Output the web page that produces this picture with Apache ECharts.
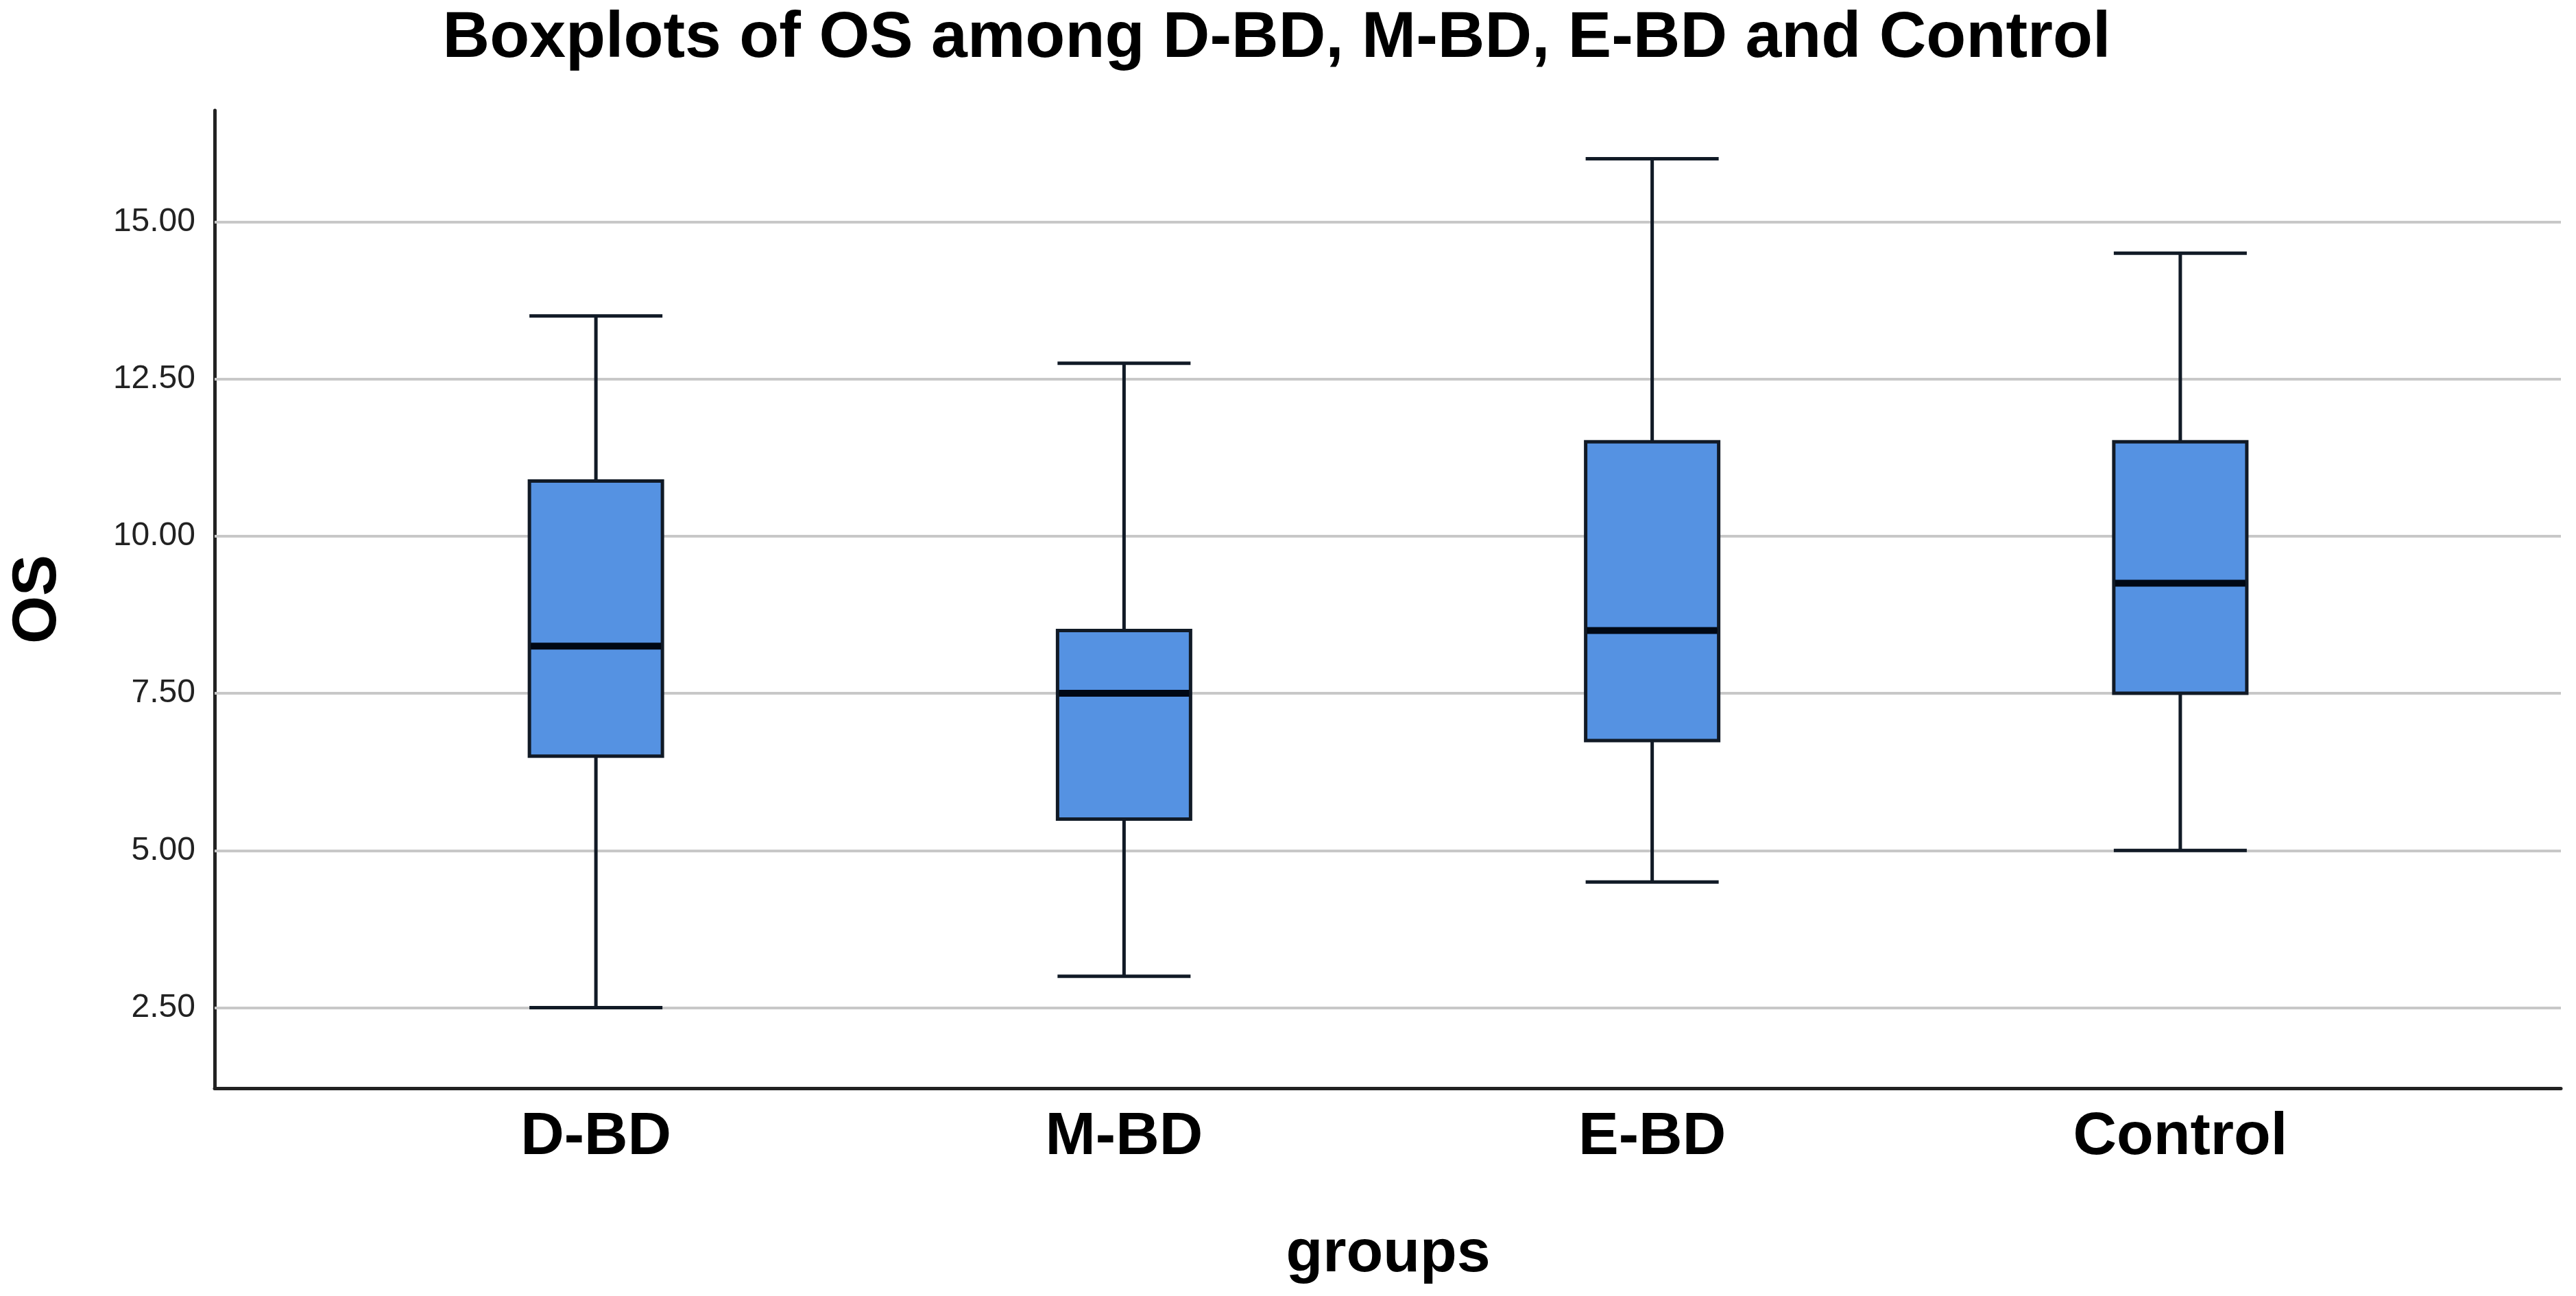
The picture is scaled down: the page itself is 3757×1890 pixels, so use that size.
<!DOCTYPE html>
<html>
<head>
<meta charset="utf-8">
<script src="https://cdn.jsdelivr.net/npm/echarts@6/dist/echarts.min.js"></script>
<style>
  html, body { margin: 0; padding: 0; background: #fff; }
  #main { width: 3757px; height: 1890px; }
</style>
</head>
<body>
<div id="main"></div>
<script>
const groups = ['D-BD', 'M-BD', 'E-BD', 'Control'];
// [min, Q1, median, Q3, max]
const dBD = [2.5, 6.5, 8.25, 10.875, 13.5];
const mBD = [3.0, 5.5, 7.5, 8.5, 12.75];
const eBD = [4.5, 6.75, 8.5, 11.5, 16.0];
const control = [5.0, 7.5, 9.25, 11.5, 14.5];
const yTicks = [2.5, 5, 7.5, 10, 12.5, 15];

const boxes = [dBD, mBD, eBD, control];
const medians = boxes.map(function (b, i) { return [groups[i], b[2]]; });

const chartDom = document.getElementById('main');
let myChart = echarts.init(chartDom);
let option;

const yMin = 1.22, yMax = 16.77;
const font = 'Liberation Sans, Arial, sans-serif';

option = {
    backgroundColor: '#ffffff',
    animation: false,
    title: {
        text: 'Boxplots of OS among D-BD, M-BD, E-BD and Control',
        left: 1857,
        textAlign: 'center',
        top: 4,
        textStyle: { fontFamily: font, fontSize: 95, fontWeight: 'bold', color: '#000' }
    },
    grid: [
        // frame: axis lines and grid lines
        { left: 313, right: 22, top: 161, bottom: 303 },
        // boxes
        { left: 484, right: 192, top: 161, bottom: 303 }
    ],
    xAxis: [
        {
            type: 'value', gridIndex: 0, min: 0, max: 1,
            axisLine: { show: true, lineStyle: { color: '#222', width: 5 } },
            axisTick: { show: false }, axisLabel: { show: false }, splitLine: { show: false }
        },
        {
            type: 'category', gridIndex: 1, data: groups,
            name: 'groups', nameLocation: 'middle', nameGap: 199,
            nameTextStyle: { fontFamily: font, fontSize: 88, fontWeight: 'bold', color: '#000' },
            axisLine: { show: false }, axisTick: { show: false },
            axisLabel: { margin: 28, fontFamily: font, fontSize: 88, fontWeight: 'bold', color: '#000' },
            splitLine: { show: false }
        }
    ],
    yAxis: [
        {
            type: 'value', gridIndex: 0, min: yMin, max: yMax,
            name: 'OS', nameLocation: 'middle', nameGap: 212,
            nameTextStyle: { fontFamily: font, fontSize: 90, fontWeight: 'bold', color: '#000' },
            axisLine: { show: true, lineStyle: { color: '#222', width: 5 } },
            axisTick: { show: false },
            axisLabel: {
                customValues: yTicks,
                margin: 28,
                padding: [10, 0, 0, 0],
                fontFamily: font, fontSize: 48, color: '#222',
                formatter: function (v) { return v.toFixed(2); }
            },
            splitLine: { show: false }
        },
        {
            type: 'value', gridIndex: 1, min: yMin, max: yMax,
            axisLine: { show: false }, axisTick: { show: false },
            axisLabel: { show: false }, splitLine: { show: false }
        }
    ],
    series: [
        {
            type: 'line', xAxisIndex: 0, yAxisIndex: 0, data: [],
            silent: true, z: 1,
            markLine: {
                silent: true, symbol: 'none', label: { show: false }, z: 1,
                lineStyle: { color: '#c8c8c8', width: 4, type: 'solid' },
                data: yTicks.map(function (v) { return { yAxis: v }; })
            }
        },
        {
            name: 'OS', type: 'boxplot', xAxisIndex: 1, yAxisIndex: 1, z: 3,
            boxWidth: [194, 194],
            itemStyle: { color: '#5592e2', borderColor: '#111a26', borderWidth: 5 },
            data: boxes
        },
        {
            type: 'scatter', xAxisIndex: 1, yAxisIndex: 1, z: 4,
            symbol: 'rect', symbolSize: [190, 10], silent: true,
            itemStyle: { color: '#000814', opacity: 1 },
            data: medians
        }
    ]
};

option && myChart.setOption(option);
</script>
</body>
</html>
